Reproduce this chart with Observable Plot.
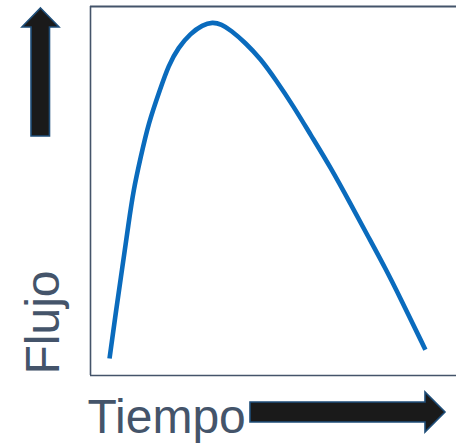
<!DOCTYPE html>
<html>
<head>
<meta charset="utf-8">
<script src="https://cdn.jsdelivr.net/npm/d3@7"></script>
<script src="https://cdn.jsdelivr.net/npm/@observablehq/plot@0.6"></script>
<style>
  html, body { margin: 0; padding: 0; background: #ffffff; }
</style>
</head>
<body>
<div id="chart"></div>
<script>
const tiempo = [5.2, 7.1, 8.7, 10.4, 11.7, 13.7, 15.8, 19.1, 21.3, 24.0, 27.3, 30.6, 33.3, 35.8, 38.3, 42.3, 46.4, 50.5, 55.5, 60.1, 65.6, 71.0, 76.0, 80.6, 84.7, 91.5];
const flujo  = [4.6, 18.4, 29.3, 41.2, 50.1, 59.1, 68.3, 77.8, 84.0, 88.9, 92.7, 95.0, 95.8, 95.2, 93.6, 90.2, 85.9, 80.3, 72.9, 65.3, 56.4, 46.6, 37.4, 29.0, 20.9, 7.0];
const xLabel = "Tiempo";
const yLabel = "Flujo";

const data = tiempo.map((t, i) => ({t, f: flujo[i]}));
const textColor = "#44546a";

const plot = Plot.plot({
  width: 456,
  height: 443,
  marginLeft: 90,
  marginRight: 0,
  marginTop: 6,
  marginBottom: 68,
  x: {domain: [0, 100], axis: null},
  y: {domain: [0, 100], axis: null},
  style: {fontFamily: "'Liberation Sans', Arial, sans-serif", background: "#ffffff"},
  marks: [
    Plot.ruleY([0], {stroke: textColor, strokeWidth: 1.6}),
    Plot.ruleY([100], {stroke: textColor, strokeWidth: 2}),
    Plot.ruleX([0], {stroke: textColor, strokeWidth: 1.6}),
    Plot.line(data, {x: "t", y: "f", stroke: "#0a6bbd", strokeWidth: 4.6, curve: "basis", strokeLinecap: "butt"}),
    Plot.text([xLabel], {frameAnchor: "bottom-left", dx: -3, dy: 57, textAnchor: "start", lineAnchor: "bottom", fontSize: 48, fill: textColor}),
    Plot.text([yLabel], {frameAnchor: "bottom-left", dx: -32, dy: -1, rotate: -90, textAnchor: "start", lineAnchor: "bottom", fontSize: 48, fill: textColor})
  ]
});

// decorative block arrows
const svg = d3.select(plot);
const arrowStyle = g => g.attr("fill", "#1a1a1a").attr("stroke", "#1f4e79").attr("stroke-width", 1.6).attr("stroke-linejoin", "miter");
svg.append("path")
  .attr("d", "M40.5,8 L59,27 L49.5,27 L49.5,136 L31,136 L31,27 L22,27 Z")
  .call(arrowStyle);
svg.append("path")
  .attr("d", "M250,402 L425,402 L425,392 L445,412 L425,432 L425,422 L250,422 Z")
  .call(arrowStyle);

document.getElementById("chart").appendChild(plot);
</script>
</body>
</html>
